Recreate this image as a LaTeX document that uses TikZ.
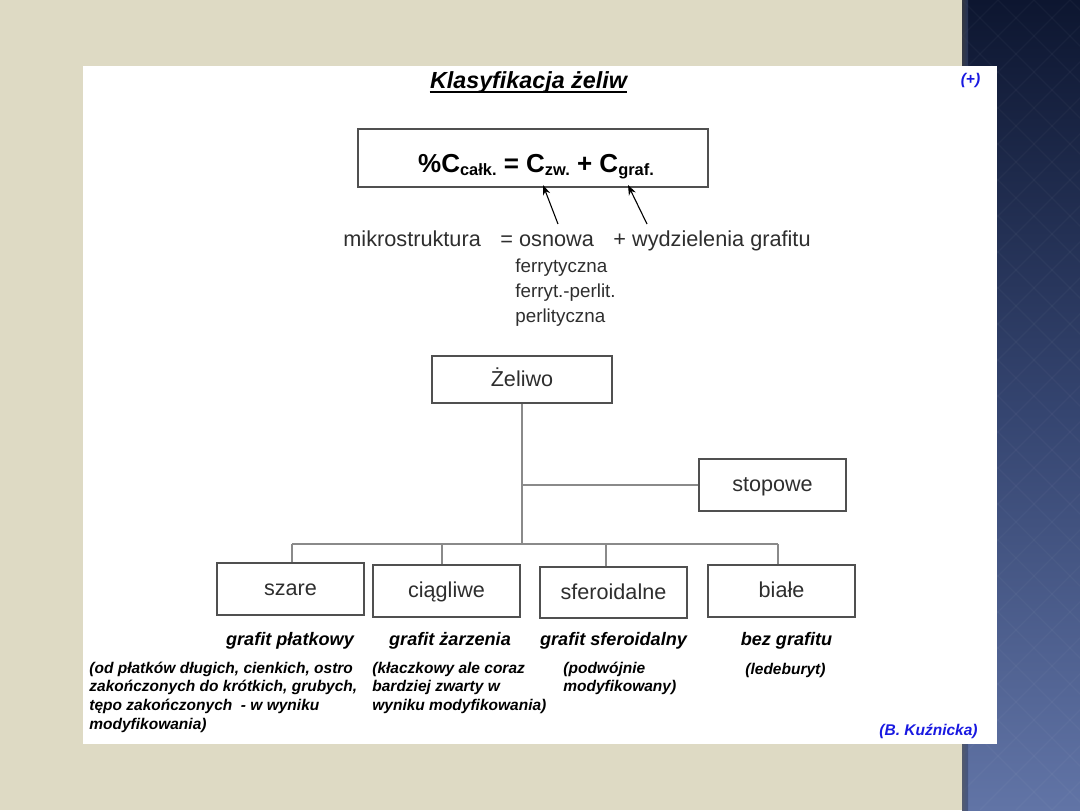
\documentclass[tikz,border=0pt]{standalone}
\usepackage{fontspec}
\setmainfont{Liberation Sans}
\usetikzlibrary{arrows.meta}
\definecolor{beige}{HTML}{DEDAC4}
\definecolor{navytop}{HTML}{0D1630}
\definecolor{navymid}{HTML}{34446F}
\definecolor{navybot}{HTML}{6174A6}
\definecolor{boxgray}{HTML}{505050}
\definecolor{conngray}{HTML}{8A8A8A}
\definecolor{textgray}{HTML}{2E2E2E}
\definecolor{authblue}{RGB}{25,25,225}
\newcommand\fsub[1]{\raisebox{-1.6pt}{\fontsize{8.2}{9}\selectfont #1}}
\begin{document}
\begin{tikzpicture}[x=0.5pt,y=-0.5pt,
  tbox/.style={draw=boxgray, line width=0.8pt, minimum width=73.5pt, minimum height=26pt,
    inner sep=0pt, text=textgray, font=\fontsize{10.8}{13}\selectfont, text height=6.5pt, text depth=0pt},
  conn/.style={draw=conngray, line width=0.6pt},
  arr/.style={draw=black, line width=0.55pt, -{Stealth[length=5pt,width=3.8pt]}},
  lbl/.style={anchor=base, inner sep=0pt, font=\fontsize{9.05}{11}\selectfont\bfseries\itshape},
  desc/.style={anchor=north west, inner sep=0pt, align=left, font=\fontsize{7.75}{9.35}\selectfont\bfseries\itshape},
  plain/.style={anchor=base west, inner sep=0pt, text=textgray}]
\useasboundingbox (0,0) rectangle (1080,810);
% background
\fill[beige] (0,0) rectangle (1080,810);
\shade[top color=navytop, bottom color=navybot, middle color=navymid] (962,0) rectangle (1080,810);
\begin{scope}
  \clip (962,0) rectangle (1080,810);
  \foreach \k in {-20,...,30} {
    \draw[white, opacity=0.03, line width=0.6pt] (962+\k*36,0) -- (962+\k*36+810,810);
    \draw[white, opacity=0.03, line width=0.6pt] (962+\k*36,0) -- (962+\k*36-810,810);
  }
\end{scope}
\shade[left color=black!70, right color=navymid, opacity=0.6] (962,0) rectangle (968,810);
% white panel
\fill[white] (83,66) rectangle (997,744);

% title
\node[anchor=base, inner sep=0pt, font=\fontsize{11.65}{14}\selectfont\bfseries\itshape] (title) at (528.5,88) {Klasyfikacja żeliw};
\draw[line width=0.9pt] ([yshift=-2pt]title.base west) -- ([yshift=-2pt]title.base east);
\node[anchor=base, inner sep=0pt, text=authblue, font=\fontsize{7.75}{9}\selectfont\bfseries\itshape] (plus) at (970.5,84) {(+)};

% formula
\node[draw=boxgray, line width=0.8pt, minimum width=175pt, minimum height=29pt, inner sep=0pt] (fbox) at (533,158) {};
\node[anchor=base, inner sep=0pt, font=\fontsize{13}{15}\selectfont\bfseries] (formula) at (536,172)
  {\%C\fsub{całk.} = C\fsub{zw.} + C\fsub{graf.}};
\coordinate (a1t) at (558,224);
\coordinate (a1h) at (543,185);
\coordinate (a2t) at (647,224);
\coordinate (a2h) at (628,185);
\draw[arr] (a1t) -- (a1h);
\draw[arr] (a2t) -- (a2h);

% microstructure line
\node[plain, font=\fontsize{10.85}{13}\selectfont] (mikro) at (343,246) {mikrostruktura};
\node[plain, font=\fontsize{10.85}{13}\selectfont] (osn) at (500,246) {= osnowa};
\node[plain, font=\fontsize{10.85}{13}\selectfont] (wyd) at (613,246) {+ wydzielenia grafitu};
\node[plain, font=\fontsize{9.4}{11}\selectfont] (f1) at (515,272) {ferrytyczna};
\node[plain, font=\fontsize{9.4}{11}\selectfont] (f2) at (515,297) {ferryt.-perlit.};
\node[plain, font=\fontsize{9.4}{11}\selectfont] (f3) at (515,322) {perlityczna};

% tree
\node[tbox, minimum width=90pt, minimum height=23.5pt] (zel) at (522,379.5) {Żeliwo};
\node[tbox] (stop) at (772.5,485) {stopowe};
\node[tbox] (szare) at (290.5,589) {szare};
\node[tbox] (ciag) at (446.5,591) {ciągliwe};
\node[tbox, minimum height=25.5pt] (sfer) at (613.5,592.5) {sferoidalne};
\node[tbox] (biale) at (781.5,591) {białe};
\coordinate (busL) at (292,544);
\coordinate (busR) at (778,544);
\coordinate (d2) at (442,544);
\coordinate (d3) at (606,544);
\draw[conn] (zel.south) -- (zel.south |- busL);
\draw[conn] (zel.south |- stop.west) -- (stop.west);
\draw[conn] (busL) -- (busR);
\draw[conn] (busL) -- (busL |- szare.north);
\draw[conn] (d2) -- (d2 |- ciag.north);
\draw[conn] (d3) -- (d3 |- sfer.north);
\draw[conn] (busR) -- (busR |- biale.north);

% labels
\node[lbl] (l1) at (290,645) {grafit płatkowy};
\node[lbl] (l2) at (450,645) {grafit żarzenia};
\node[lbl] (l3) at (613.5,645) {grafit sferoidalny};
\node[lbl] (l4) at (786.5,645) {bez grafitu};

\node[desc] (e1) at (89,661.5) {(od płatków długich, cienkich, ostro\\zakończonych do krótkich, grubych,\\tępo zakończonych \ - w wyniku\\modyfikowania)};
\node[desc] (e2) at (372,661.5) {(kłaczkowy ale coraz\\bardziej zwarty w\\wyniku modyfikowania)};
\node[desc] (e3) at (563,661.5) {(podwójnie\\modyfikowany)};
\node[desc] (e4) at (745,662.5) {(ledeburyt)};

\node[anchor=base east, inner sep=0pt, text=authblue, font=\fontsize{7.75}{9}\selectfont\bfseries\itshape] (auth) at (978,735) {(B. Kuźnicka)};
\end{tikzpicture}
\end{document}
